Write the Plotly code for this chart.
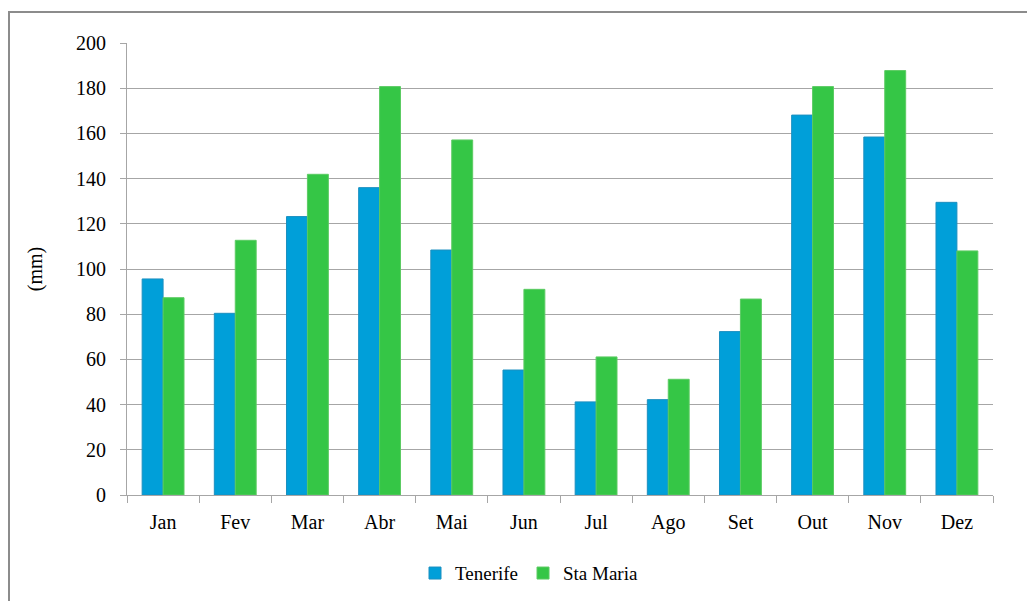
import plotly.graph_objects as go

# Monthly precipitation (mm)
months = ["Jan", "Fev", "Mar", "Abr", "Mai", "Jun", "Jul", "Ago", "Set", "Out", "Nov", "Dez"]
tenerife = [95.6, 80.4, 123.2, 136.0, 108.4, 55.3, 41.2, 42.2, 72.3, 168.1, 158.4, 129.5]
sta_maria = [87.3, 112.7, 141.9, 180.7, 157.1, 91.0, 61.1, 51.2, 86.7, 180.7, 187.8, 108.0]
y_ticks = [0, 20, 40, 60, 80, 100, 120, 140, 160, 180, 200]

FONT = "Liberation Serif"
LEGEND_FONT = "Times New Roman, Liberation Serif, DejaVu Serif, serif"
GRID = "#a6a6a6"

fig = go.Figure()
fig.add_trace(go.Bar(
    x=months, y=tenerife, name="Tenerife",
    marker=dict(color="#009FD9", line=dict(color="#1B8FC0", width=1)),
))
fig.add_trace(go.Bar(
    x=months, y=sta_maria, name="Sta Maria",
    marker=dict(color="#35C646", line=dict(color="#5CCB63", width=1)),
))

fig.update_layout(
    width=1027, height=601,
    margin=dict(l=127, r=34, t=43, b=106, autoexpand=False),
    paper_bgcolor="white", plot_bgcolor="white",
    barmode="group", bargap=0.42, bargroupgap=0,
    font=dict(family=FONT, size=20, color="#000000"),
    showlegend=True,
    legend=dict(
        orientation="h", x=(415 - 127) / 866, xanchor="left",
        y=-0.173, yanchor="middle",
        font=dict(family=LEGEND_FONT, size=19, color="#000000"),
        itemwidth=30, tracegroupgap=0,
        bgcolor="rgba(0,0,0,0)",
    ),
    xaxis=dict(
        type="category", tickson="boundaries", ticks="outside", ticklen=7,
        tickcolor=GRID, showline=True, linecolor=GRID, linewidth=1,
        showgrid=False, ticklabelstandoff=9,
        tickfont=dict(family=FONT, size=20),
    ),
    yaxis=dict(
        range=[0, 200], tickvals=y_ticks, ticks="outside", ticklen=6,
        tickcolor=GRID, showline=True, linecolor=GRID, linewidth=1,
        showgrid=True, gridcolor=GRID, gridwidth=1, zeroline=False,
        ticklabelstandoff=10,
        tickfont=dict(family=FONT, size=20),
        title=dict(text="(mm)", font=dict(family=FONT, size=20), standoff=28),
    ),
    shapes=[
        # outer chart frame (open on the right and bottom)
        dict(type="rect", xref="paper", yref="paper",
             x0=(9 - 127) / 866, x1=1.06, y0=-0.3, y1=(495 - 12) / 452,
             line=dict(color="#8c8c8c", width=2), fillcolor="rgba(0,0,0,0)",
             layer="below"),
    ],
)

fig.write_html("out.html")
